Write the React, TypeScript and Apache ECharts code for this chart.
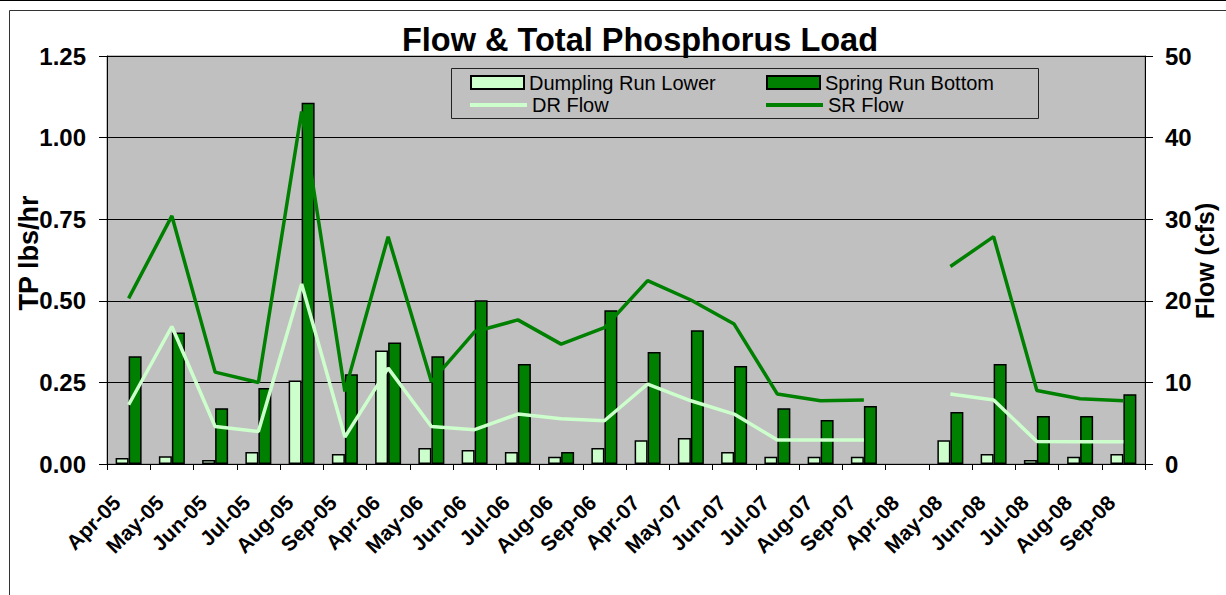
import React, { useEffect, useRef } from 'react';
import * as echarts from 'echarts';

const categories = [
  'Apr-05', 'May-05', 'Jun-05', 'Jul-05', 'Aug-05', 'Sep-05',
  'Apr-06', 'May-06', 'Jun-06', 'Jul-06', 'Aug-06', 'Sep-06',
  'Apr-07', 'May-07', 'Jun-07', 'Jul-07', 'Aug-07', 'Sep-07',
  'Apr-08', 'May-08', 'Jun-08', 'Jul-08', 'Aug-08', 'Sep-08',
];

// TP load (lbs/hr), left axis
const dumplingLoad = [
  0.018, 0.024, 0.012, 0.037, 0.256, 0.031,
  0.348, 0.049, 0.043, 0.037, 0.022, 0.049,
  0.073, 0.080, 0.037, 0.022, 0.022, 0.022,
  null, 0.073, 0.031, 0.012, 0.022, 0.031,
];
const springLoad = [
  0.33, 0.403, 0.171, 0.233, 1.107, 0.275,
  0.372, 0.33, 0.502, 0.306, 0.037, 0.471,
  0.343, 0.41, 0.30, 0.171, 0.135, 0.178,
  null, 0.159, 0.306, 0.147, 0.147, 0.214,
];

// Flow (cfs), right axis
const drFlow = [
  7.26, 16.85, 4.6, 3.99, 22.07, 3.3,
  11.75, 4.6, 4.2, 6.12, 5.55, 5.3,
  9.8, 7.75, 6.12, 2.94, 2.94, 2.94,
  null, 8.57, 7.83, 2.77, 2.73, 2.73,
];
const srFlow = [
  20.3, 30.4, 11.26, 9.99, 43.2, 8.9,
  27.86, 10.1, 16.2, 17.66, 14.69, 16.7,
  22.47, 20.1, 17.15, 8.57, 7.75, 7.83,
  null, 24.2, 27.86, 9.0, 8.0, 7.75,
];

const leftTicks = { min: 0, max: 1.25, interval: 0.25 };
const rightTicks = { min: 0, max: 50, interval: 10 };

const FONT = 'Liberation Sans, Arial, sans-serif';
const LIGHT = '#CCFFCC';
const DARK = '#008000';

export default function App() {
  const ref = useRef<HTMLDivElement>(null);

  useEffect(() => {
    if (!ref.current) return;
    const chart = echarts.init(ref.current, null, { renderer: 'svg' });
    const legendText = { fontSize: 20, lineHeight: 20, color: '#000', fontFamily: FONT };
    chart.setOption({
      animation: false,
      backgroundColor: '#ffffff',
      textStyle: { fontFamily: FONT },
      title: {
        text: 'Flow & Total Phosphorus Load',
        left: 640,
        top: 23,
        textAlign: 'center',
        padding: 0,
        textStyle: { fontSize: 32.5, fontWeight: 'bold', color: '#000', fontFamily: FONT },
      },
      grid: {
        left: 107,
        right: 81,
        top: 56,
        bottom: 131,
        show: true,
        backgroundColor: '#C0C0C0',
        borderColor: '#808080',
        borderWidth: 1,
      },
      legend: [
        {
          data: [{ name: 'Dumpling Run Lower', icon: 'rect' }],
          left: 470, top: 72.5, padding: 0, itemWidth: 53, itemHeight: 13,
          textStyle: legendText, selectedMode: false,
        },
        {
          data: [{ name: 'Spring Run Bottom', icon: 'rect' }],
          left: 766, top: 72.5, padding: 0, itemWidth: 53, itemHeight: 13,
          textStyle: legendText, selectedMode: false,
        },
        {
          data: [{ name: 'DR Flow', icon: 'rect' }],
          left: 470, top: 95, padding: 0, itemWidth: 57, itemHeight: 4,
          itemStyle: { borderWidth: 0 },
          textStyle: legendText, selectedMode: false,
        },
        {
          data: [{ name: 'SR Flow', icon: 'rect' }],
          left: 766, top: 95, padding: 0, itemWidth: 57, itemHeight: 4,
          itemStyle: { borderWidth: 0 },
          textStyle: legendText, selectedMode: false,
        },
      ],
      xAxis: {
        type: 'category',
        data: categories,
        boundaryGap: true,
        axisLine: { show: true, lineStyle: { color: '#000', width: 1 } },
        axisTick: { show: true, length: 6, lineStyle: { color: '#000' } },
        axisLabel: {
          interval: 0, rotate: 45, fontSize: 21, fontWeight: 'bold',
          color: '#000', margin: 23, padding: [0, 17, 0, 0], fontFamily: FONT,
        },
        splitLine: { show: false },
      },
      yAxis: [
        {
          type: 'value',
          position: 'left',
          ...leftTicks,
          axisLine: { show: true, lineStyle: { color: '#000', width: 1 } },
          axisTick: { show: true, length: 8, lineStyle: { color: '#000' } },
          axisLabel: {
            formatter: (v: number) => v.toFixed(2),
            fontSize: 24, fontWeight: 'bold', color: '#000', margin: 21, fontFamily: FONT,
          },
          splitLine: { show: true, lineStyle: { color: '#000', width: 1 } },
        },
        {
          type: 'value',
          position: 'right',
          ...rightTicks,
          axisLine: { show: true, lineStyle: { color: '#000', width: 1 } },
          axisTick: { show: true, length: 8, lineStyle: { color: '#000' } },
          axisLabel: {
            fontSize: 24, fontWeight: 'bold', color: '#000', margin: 20, fontFamily: FONT,
          },
          splitLine: { show: false },
        },
      ],
      series: [
        {
          name: 'Dumpling Run Lower', type: 'bar', data: dumplingLoad,
          barWidth: 13, barGap: '0%',
          itemStyle: { color: LIGHT, borderColor: '#000', borderWidth: 1.5 },
        },
        {
          name: 'Spring Run Bottom', type: 'bar', data: springLoad,
          barWidth: 13, barGap: '0%',
          itemStyle: { color: DARK, borderColor: '#000', borderWidth: 1.5 },
        },
        {
          name: 'DR Flow', type: 'line', yAxisIndex: 1, data: drFlow,
          symbol: 'none', connectNulls: false, z: 3,
          lineStyle: { color: LIGHT, width: 3.5 }, itemStyle: { color: LIGHT },
        },
        {
          name: 'SR Flow', type: 'line', yAxisIndex: 1, data: srFlow,
          symbol: 'none', connectNulls: false, z: 3,
          lineStyle: { color: DARK, width: 3.5 }, itemStyle: { color: DARK },
        },
      ],
      graphic: [
        {
          type: 'line', silent: true,
          shape: { x1: 0, y1: 0.5, x2: 1226, y2: 0.5 },
          style: { stroke: '#000', lineWidth: 1 },
        },
        {
          type: 'rect', silent: true,
          shape: { x: 9.5, y: 10.5, width: 1240, height: 620 },
          style: { fill: 'none', stroke: '#333', lineWidth: 1 },
        },
        {
          type: 'rect', silent: true, z: 1,
          shape: { x: 451.5, y: 68.5, width: 587, height: 50 },
          style: { fill: 'none', stroke: '#222', lineWidth: 1 },
        },
        {
          type: 'text', silent: true,
          x: 29, y: 253, rotation: Math.PI / 2,
          style: {
            text: 'TP lbs/hr', fontSize: 27, fontWeight: 'bold', fontFamily: FONT,
            fill: '#000', align: 'center', verticalAlign: 'middle',
          },
        },
        {
          type: 'text', silent: true,
          x: 1205, y: 261, rotation: Math.PI / 2,
          style: {
            text: 'Flow (cfs)', fontSize: 25, fontWeight: 'bold', fontFamily: FONT,
            fill: '#000', align: 'center', verticalAlign: 'middle',
          },
        },
      ],
    });
    return () => chart.dispose();
  }, []);

  return (
    <div
      ref={ref}
      style={{ position: 'fixed', left: 0, top: 0, width: 1226, height: 595 }}
    />
  );
}
